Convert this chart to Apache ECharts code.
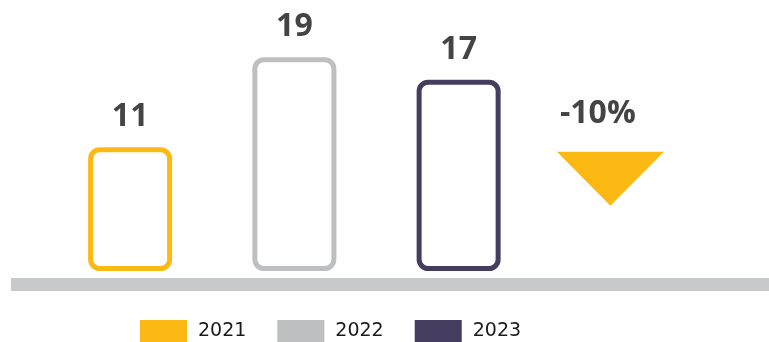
<!DOCTYPE html>
<html>
<head>
<meta charset="utf-8">
<script src="https://cdn.jsdelivr.net/npm/echarts@6/dist/echarts.min.js"></script>
<style>
  html, body { margin: 0; padding: 0; background: #fff; }
  #chart { width: 769px; height: 342px; }
</style>
</head>
<body>
<div id="chart"></div>
<script>
// data
const years = ['2021', '2022', '2023']
const values = [11, 19, 17]
const colors = ['#fdb913', '#bebfc1', '#453d5f']
const categories = [...years, 'change']

// change between last two years (truncated, as shown)
const change = Math.trunc((values[2] - values[1]) / values[1] * 100)

const chart = echarts.init(document.getElementById('chart'))

const barSeries = years.map((y, i) => ({
  name: y,
  type: 'bar',
  stack: 'total',
  barWidth: 84,
  clip: false,
  data: categories.map((c, j) => (j === i ? values[i] : '-')),
  itemStyle: {
    color: '#fff',
    borderColor: colors[i],
    borderWidth: 5,
    borderRadius: 9
  },
  label: {
    show: true,
    position: 'top',
    distance: 14,
    color: '#444',
    fontFamily: 'Open Sans',
    fontWeight: 'bold',
    fontSize: 32
  }
}))

const option = {
  animation: false,
  grid: { left: 48, right: 64, top: 1, bottom: 71 },
  xAxis: {
    type: 'category',
    data: categories,
    show: false
  },
  yAxis: { type: 'value', min: 0, max: 24, show: false },
  legend: {
    data: years.map((y, i) => ({ name: y, itemStyle: { color: colors[i], borderWidth: 0 } })),
    left: 140,
    top: 320,
    padding: 0,
    itemWidth: 47,
    itemHeight: 22,
    itemGap: 31,
    icon: 'rect',
    textStyle: {
      color: '#1a1a1a',
      fontFamily: 'DejaVu Sans',
      fontSize: 19,
      padding: [2, 0, 0, 6]
    }
  },
  graphic: [{
    type: 'rect',
    left: 11,
    top: 278,
    shape: { width: 758, height: 13 },
    style: { fill: '#c8c9cb' },
    z: 0
  }],
  series: [
    ...barSeries,
    {
      type: 'scatter',
      data: [['change', 8.2]],
      symbol: 'path://M0,0L2,0L1,1Z',
      symbolSize: [107, 54],
      symbolOffset: [-12.5, 0],
      itemStyle: { color: '#fdb913', opacity: 1 },
      label: {
        show: true,
        position: 'top',
        distance: 22,
        offset: [-12.5, 0],
        formatter: () => change + '%',
        color: '#444',
        fontFamily: 'Open Sans',
        fontWeight: 'bold',
        fontSize: 32
      }
    }
  ]
}

chart.setOption(option)
window.addEventListener('resize', () => chart.resize())
</script>
</body>
</html>
